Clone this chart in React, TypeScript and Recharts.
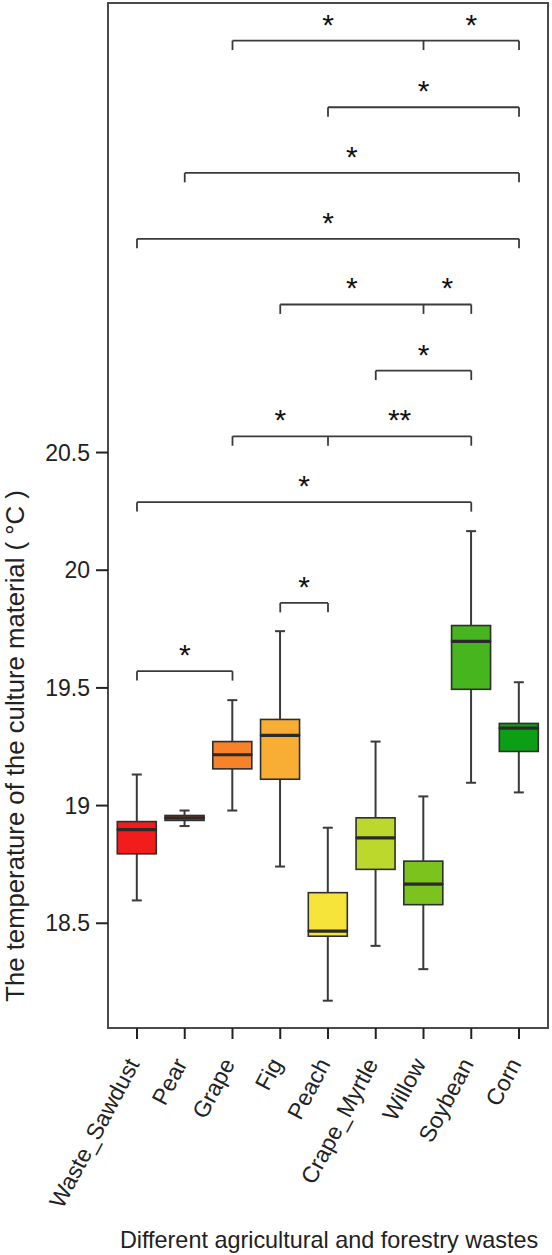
import React from 'react';
import { ComposedChart, Bar, XAxis, YAxis, ReferenceLine, ReferenceArea, Scatter, Label } from 'recharts';

const CATEGORIES = ['Waste_Sawdust', 'Pear', 'Grape', 'Fig', 'Peach', 'Crape_Myrtle', 'Willow', 'Soybean', 'Corn'];
const WHISKER_LOW = [18.597, 18.913, 18.979, 18.741, 18.171, 18.404, 18.305, 19.097, 19.056];
const Q1 = [18.795, 18.937, 19.156, 19.112, 18.445, 18.729, 18.579, 19.494, 19.23];
const MEDIAN = [18.898, 18.948, 19.216, 19.298, 18.467, 18.863, 18.666, 19.698, 19.329];
const Q3 = [18.932, 18.958, 19.272, 19.366, 18.63, 18.948, 18.764, 19.765, 19.349];
const WHISKER_HIGH = [19.132, 18.979, 19.448, 19.741, 18.906, 19.272, 19.039, 20.166, 19.524];
const COLORS = ['#F21C1C', '#F04B1C', '#F7822A', '#F8AE35', '#F7E43B', '#BDD82C', '#7DC31E', '#47B51E', '#0C9E14'];

const Y_TICKS = [18.5, 19, 19.5, 20, 20.5];
const Y_DOMAIN = [18.055, 22.41];
const X_DOMAIN = [0.393, 9.607];

// significance brackets (category positions 1..9)
const BRACKET_FROM = [3, 5, 2, 1, 4, 6, 3, 1, 4, 1];
const BRACKET_TO = [9, 9, 9, 9, 8, 8, 8, 8, 5, 3];
const BRACKET_MID = [7, null, null, null, 7, null, 5, null, null, null];
const BRACKET_LEVEL = [22.25, 21.967, 21.688, 21.408, 21.129, 20.848, 20.569, 20.289, 19.861, 19.571];
const STAR_X = [5, 8, 7, 5.5, 5, 5.5, 7.5, 7, 4, 6.5, 4.5, 4.5, 2];
const STAR_ROW = [0, 0, 1, 2, 3, 4, 4, 5, 6, 6, 7, 8, 9];
const STAR_TEXT = ['*', '*', '*', '*', '*', '*', '*', '*', '*', '**', '*', '*', '*'];
const TICK_DROP = 0.04;

const FONT = '"Liberation Sans", Arial, sans-serif';
const LINE = '#3a3a3a';
const BOX_W = 39;

const boxData = CATEGORIES.map((name, i) => ({
  x: i + 1,
  name,
  base: WHISKER_LOW[i],
  lowWhisker: Q1[i] - WHISKER_LOW[i],
  lowBox: MEDIAN[i] - Q1[i],
  highBox: Q3[i] - MEDIAN[i],
  highWhisker: WHISKER_HIGH[i] - Q3[i],
}));

const starData = STAR_X.map((x, i) => ({ x, y: BRACKET_LEVEL[STAR_ROW[i]], label: STAR_TEXT[i] }));

const Empty = () => null;

const LowWhisker = (props: any) => {
  const { x, y, width, height } = props;
  const cx = x + width / 2;
  return (
    <g>
      <line x1={cx} x2={cx} y1={y} y2={y + height} stroke={LINE} strokeWidth={2} />
      <line x1={cx - 5} x2={cx + 5} y1={y + height} y2={y + height} stroke={LINE} strokeWidth={2} />
    </g>
  );
};

const HighWhisker = (props: any) => {
  const { x, y, width, height } = props;
  const cx = x + width / 2;
  return (
    <g>
      <line x1={cx} x2={cx} y1={y} y2={y + height} stroke={LINE} strokeWidth={2} />
      <line x1={cx - 5} x2={cx + 5} y1={y} y2={y} stroke={LINE} strokeWidth={2} />
    </g>
  );
};

const LowBox = (props: any) => {
  const { x, y, width, height, index } = props;
  const cx = x + width / 2;
  return <rect x={cx - BOX_W / 2} y={y} width={BOX_W} height={height} fill={COLORS[index]} stroke="#2e2e2e" strokeWidth={1.6} />;
};

const HighBox = (props: any) => {
  const { x, y, width, height, index } = props;
  const cx = x + width / 2;
  return (
    <g>
      <rect x={cx - BOX_W / 2} y={y} width={BOX_W} height={height} fill={COLORS[index]} stroke="#2e2e2e" strokeWidth={1.6} />
      <line x1={cx - BOX_W / 2} x2={cx + BOX_W / 2} y1={y + height} y2={y + height} stroke="#2a2a2a" strokeWidth={3.2} />
    </g>
  );
};

const StarShape = (props: any) => {
  const { cx, cy, payload } = props;
  return (
    <text x={cx} y={cy} dy={-6} textAnchor="middle" fontSize={30} fontFamily={FONT} fill="#111">
      {payload.label}
    </text>
  );
};

const XTick = (props: any) => {
  const { x, y, payload } = props;
  return (
    <g transform={`translate(${x - 4},${y + 19})`}>
      <text transform="rotate(-62)" textAnchor="end" dy="0.35em" fontSize={23} fontFamily={FONT} fill="#222">
        {CATEGORIES[payload.value - 1]}
      </text>
    </g>
  );
};

export default function App() {
  const refLines: any[] = [];
  BRACKET_LEVEL.forEach((lvl, i) => {
    const from = BRACKET_FROM[i];
    const to = BRACKET_TO[i];
    refLines.push(
      <ReferenceLine key={`h${i}`} segment={[{ x: from, y: lvl }, { x: to, y: lvl }]} stroke={LINE} strokeWidth={1.8} ifOverflow="visible" />
    );
    const drops = [from, to];
    if (BRACKET_MID[i] != null) drops.push(BRACKET_MID[i] as number);
    drops.forEach((d, j) => {
      refLines.push(
        <ReferenceLine key={`v${i}-${j}`} segment={[{ x: d, y: lvl }, { x: d, y: lvl - TICK_DROP }]} stroke={LINE} strokeWidth={1.8} ifOverflow="visible" />
      );
    });
  });

  return (
    <div style={{ position: 'absolute', left: 0, top: 0 }}>
      <ComposedChart width={552} height={1255} data={boxData} margin={{ top: 3, right: 4, left: 0, bottom: 0 }}>
        <XAxis
          dataKey="x"
          type="number"
          domain={X_DOMAIN}
          allowDataOverflow
          ticks={[1, 2, 3, 4, 5, 6, 7, 8, 9]}
          interval={0}
          height={227}
          axisLine={false}
          tickLine={{ stroke: '#222', strokeWidth: 2 }}
          tickSize={11}
          tickMargin={2}
          tick={<XTick />}
        >
          <Label
            content={() => (
              <text x={329} y={1240} dy="0.35em" textAnchor="middle" fontSize={23.4} fontFamily={FONT} fill="#222">
                Different agricultural and forestry wastes
              </text>
            )}
          />
        </XAxis>
        <YAxis
          type="number"
          domain={Y_DOMAIN}
          allowDataOverflow
          ticks={Y_TICKS}
          width={108}
          axisLine={false}
          tickLine={{ stroke: '#222', strokeWidth: 2 }}
          tickSize={12}
          tickMargin={6}
          tick={{ fontSize: 23, fontFamily: FONT, fill: '#222' }}
          tickFormatter={(v: number) => String(v)}
        >
          <Label
            content={() => (
              <text transform="translate(15,746) rotate(-90)" dy="0.35em" textAnchor="middle" fontSize={25.7} fontFamily={FONT} fill="#222">
                The temperature of the culture material ( °C )
              </text>
            )}
          />
        </YAxis>
        <ReferenceArea x1={X_DOMAIN[0]} x2={X_DOMAIN[1]} y1={Y_DOMAIN[0]} y2={Y_DOMAIN[1]} fill="none" stroke="#4a4a4a" strokeWidth={2} ifOverflow="visible" />
        <Bar dataKey="base" stackId="box" barSize={39} shape={<Empty />} isAnimationActive={false} />
        <Bar dataKey="lowWhisker" stackId="box" barSize={39} shape={<LowWhisker />} isAnimationActive={false} />
        <Bar dataKey="lowBox" stackId="box" barSize={39} shape={<LowBox />} isAnimationActive={false} />
        <Bar dataKey="highBox" stackId="box" barSize={39} shape={<HighBox />} isAnimationActive={false} />
        <Bar dataKey="highWhisker" stackId="box" barSize={39} shape={<HighWhisker />} isAnimationActive={false} />
        {refLines}
        <Scatter data={starData} dataKey="y" shape={<StarShape />} isAnimationActive={false} />
      </ComposedChart>
    </div>
  );
}
